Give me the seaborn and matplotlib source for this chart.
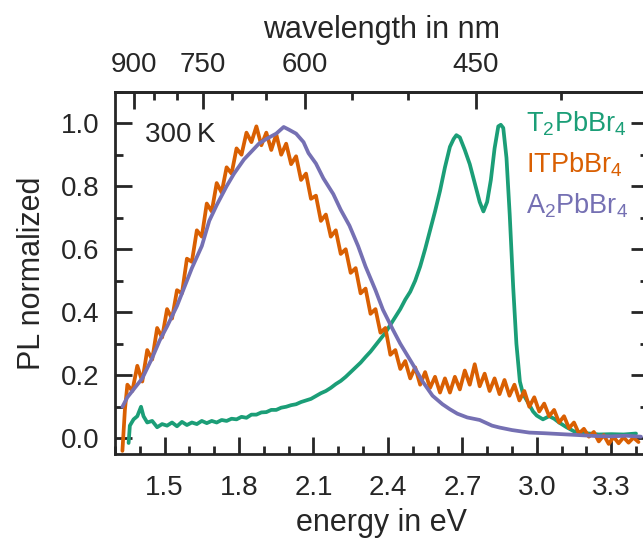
import numpy as np
import pandas as pd
import seaborn as sns
import matplotlib.pyplot as plt
from matplotlib.ticker import MultipleLocator, FixedLocator

# PL spectra (energy in eV, normalized PL)
t2_energy = [1.355, 1.36, 1.375, 1.39, 1.405, 1.415, 1.43, 1.45, 1.47, 1.49, 1.51, 1.53, 1.55,
             1.57, 1.59, 1.61, 1.63, 1.65, 1.67, 1.69, 1.71, 1.73, 1.75, 1.77, 1.79, 1.81, 1.83,
             1.85, 1.87, 1.89, 1.91, 1.93, 1.95, 1.97, 1.99, 2.01, 2.03, 2.05, 2.07, 2.09, 2.11,
             2.13, 2.15, 2.17, 2.19, 2.21, 2.23, 2.25, 2.27, 2.29, 2.31, 2.33, 2.35, 2.37, 2.39,
             2.41, 2.43, 2.45, 2.47, 2.49, 2.51, 2.53, 2.55, 2.57, 2.59, 2.61, 2.63, 2.65, 2.665,
             2.676, 2.69, 2.71, 2.73, 2.75, 2.77, 2.785, 2.80, 2.815, 2.83, 2.845, 2.855, 2.865,
             2.878, 2.891, 2.905, 2.918, 2.932, 2.945, 2.96, 2.985, 3.00, 3.025, 3.05, 3.07, 3.09,
             3.12, 3.15, 3.20, 3.25, 3.30, 3.35, 3.40]
t2_pl = [-0.015, 0.04, 0.06, 0.07, 0.10, 0.07, 0.05, 0.055, 0.035, 0.045, 0.04, 0.05, 0.038,
         0.052, 0.042, 0.05, 0.045, 0.055, 0.048, 0.055, 0.05, 0.058, 0.055, 0.062, 0.06, 0.068,
         0.065, 0.075, 0.075, 0.082, 0.083, 0.09, 0.09, 0.097, 0.10, 0.105, 0.108, 0.115, 0.12,
         0.125, 0.134, 0.143, 0.15, 0.16, 0.172, 0.182, 0.195, 0.21, 0.225, 0.24, 0.258, 0.275,
         0.295, 0.315, 0.335, 0.36, 0.385, 0.41, 0.44, 0.465, 0.50, 0.545, 0.60, 0.66, 0.72,
         0.785, 0.86, 0.925, 0.95, 0.962, 0.955, 0.915, 0.87, 0.81, 0.75, 0.72, 0.75, 0.82,
         0.92, 0.99, 0.995, 0.985, 0.89, 0.71, 0.48, 0.30, 0.18, 0.14, 0.12, 0.085, 0.072,
         0.06, 0.07, 0.062, 0.05, 0.035, 0.022, 0.016, 0.012, 0.013, 0.012, 0.015]

it_energy = [1.33, 1.34, 1.35, 1.37, 1.39, 1.41, 1.43, 1.45, 1.47, 1.49, 1.51, 1.53, 1.55, 1.57,
             1.59, 1.61, 1.63, 1.65, 1.67, 1.69, 1.71, 1.73, 1.75, 1.77, 1.79, 1.81, 1.83, 1.85,
             1.87, 1.89, 1.91, 1.93, 1.95, 1.97, 1.99, 2.01, 2.03, 2.05, 2.07, 2.09, 2.11, 2.13,
             2.15, 2.17, 2.19, 2.21, 2.23, 2.25, 2.27, 2.29, 2.31, 2.33, 2.35, 2.37, 2.39, 2.41,
             2.43, 2.45, 2.47, 2.49, 2.51, 2.53, 2.55, 2.57, 2.59, 2.61, 2.63, 2.65, 2.67, 2.69,
             2.71, 2.73, 2.75, 2.77, 2.79, 2.81, 2.83, 2.85, 2.87, 2.89, 2.91, 2.93, 2.95, 2.97,
             2.99, 3.01, 3.03, 3.05, 3.07, 3.09, 3.11, 3.13, 3.15, 3.17, 3.19, 3.21, 3.23, 3.25,
             3.27, 3.29, 3.31, 3.33, 3.35, 3.37, 3.39, 3.41]
it_pl = [-0.04, 0.09, 0.17, 0.15, 0.23, 0.18, 0.28, 0.25, 0.35, 0.32, 0.41, 0.38, 0.47, 0.46,
         0.57, 0.56, 0.66, 0.64, 0.745, 0.72, 0.81, 0.78, 0.86, 0.84, 0.92, 0.90, 0.97, 0.94,
         0.99, 0.93, 0.97, 0.915, 0.965, 0.90, 0.935, 0.87, 0.895, 0.82, 0.84, 0.76, 0.77, 0.69,
         0.71, 0.64, 0.66, 0.585, 0.60, 0.525, 0.54, 0.46, 0.475, 0.395, 0.41, 0.335, 0.35, 0.265,
         0.28, 0.22, 0.245, 0.19, 0.225, 0.17, 0.21, 0.16, 0.195, 0.145, 0.19, 0.145, 0.195, 0.155,
         0.215, 0.17, 0.235, 0.165, 0.205, 0.15, 0.19, 0.14, 0.185, 0.135, 0.17, 0.12, 0.15, 0.10,
         0.13, 0.085, 0.11, 0.07, 0.09, 0.05, 0.07, 0.032, 0.05, 0.015, 0.03, 0.005, 0.02, -0.01,
         0.01, -0.018, 0.004, -0.016, 0.003, -0.014, 0.002, -0.012]

a2_energy = [1.33, 1.35, 1.38, 1.41, 1.45, 1.48, 1.51, 1.55, 1.58, 1.61, 1.65, 1.68, 1.71, 1.75,
             1.78, 1.82, 1.85, 1.88, 1.91, 1.95, 1.98, 2.00, 2.03, 2.06, 2.08, 2.11, 2.14, 2.18,
             2.21, 2.245, 2.28, 2.31, 2.35, 2.38, 2.42, 2.45, 2.50, 2.54, 2.58, 2.62, 2.65, 2.68,
             2.72, 2.77, 2.82, 2.85, 2.90, 2.97, 3.03, 3.10, 3.17, 3.24, 3.30, 3.36, 3.42]
a2_pl = [0.10, 0.13, 0.16, 0.19, 0.255, 0.31, 0.355, 0.42, 0.48, 0.54, 0.61, 0.69, 0.74, 0.80,
         0.84, 0.885, 0.91, 0.935, 0.95, 0.967, 0.988, 0.98, 0.967, 0.94, 0.905, 0.872, 0.825,
         0.775, 0.725, 0.675, 0.61, 0.545, 0.47, 0.408, 0.345, 0.30, 0.235, 0.18, 0.135, 0.108,
         0.092, 0.078, 0.066, 0.058, 0.040, 0.034, 0.026, 0.018, 0.016, 0.013, 0.010, 0.007,
         0.006, 0.008, 0.005]

samples = ["T$_2$PbBr$_4$", "ITPbBr$_4$", "A$_2$PbBr$_4$"]
colors = ["#1b9e77", "#d95f02", "#7570b3"]

df = pd.concat([
    pd.DataFrame({"energy": t2_energy, "pl": t2_pl, "sample": samples[0]}),
    pd.DataFrame({"energy": it_energy, "pl": it_pl, "sample": samples[1]}),
    pd.DataFrame({"energy": a2_energy, "pl": a2_pl, "sample": samples[2]}),
], ignore_index=True)

sns.set_style("ticks")
plt.rcParams['font.family'] = ['Liberation Sans', 'DejaVu Sans']
plt.rcParams['mathtext.fontset'] = 'custom'
plt.rcParams['mathtext.rm'] = 'Liberation Sans'
plt.rcParams['mathtext.default'] = 'regular'

fig = plt.figure(figsize=(6.43, 5.41), dpi=100)
ax = fig.add_axes([0.1788, 0.1608, 0.8296, 0.6697])

sns.lineplot(data=df, x="energy", y="pl", hue="sample", palette=dict(zip(samples, colors)),
             estimator=None, sort=False, lw=2.7, legend=False, ax=ax)

ax.set_xlim(1.3, 3.45)
ax.set_ylim(-0.05, 1.10)
ax.xaxis.set_minor_locator(MultipleLocator(0.1))
ax.yaxis.set_major_locator(MultipleLocator(0.2))
ax.yaxis.set_minor_locator(MultipleLocator(0.1))
ax.set_xticks([1.5, 1.8, 2.1, 2.4, 2.7, 3.0, 3.3])
ax.xaxis.set_major_formatter(plt.FormatStrFormatter('%.1f'))
ax.yaxis.set_major_formatter(plt.FormatStrFormatter('%.1f'))

for s in ax.spines.values():
    s.set_linewidth(2)
ax.tick_params(which='both', direction='in', top=False, right=True, width=2, labelsize=20)
ax.tick_params(which='major', length=12)
ax.tick_params(which='minor', length=6)
ax.tick_params(axis='x', pad=15)
ax.tick_params(axis='y', pad=11)

ax.set_xlabel("energy in eV", fontsize=22, labelpad=5)
ax.set_ylabel("PL normalized", fontsize=22, labelpad=10)

# wavelength scale on top
secax = ax.secondary_xaxis('top', functions=(lambda e: 1239.84 / np.maximum(e, 1e-6),
                                             lambda l: 1239.84 / np.maximum(l, 1e-6)))
secax.xaxis.set_major_locator(FixedLocator([900, 750, 600, 450]))
secax.xaxis.set_minor_locator(FixedLocator([850, 800, 700, 650, 550, 500, 400]))
secax.spines['top'].set_linewidth(2)
secax.tick_params(which='both', direction='in', width=2, labelsize=20, pad=10)
secax.tick_params(which='major', length=12)
secax.tick_params(which='minor', length=6)
secax.set_xlabel("wavelength in nm", fontsize=22, labelpad=10)

ax.text(0.056, 0.862, "300\u2009K", transform=ax.transAxes, fontsize=20, va='baseline')
for lab, col, yb in zip(samples, colors, [0.889, 0.778, 0.665]):
    ax.text(0.7705, yb, lab, transform=ax.transAxes, fontsize=19.5, color=col, va='baseline')

fig.savefig("out.png", dpi=100)
